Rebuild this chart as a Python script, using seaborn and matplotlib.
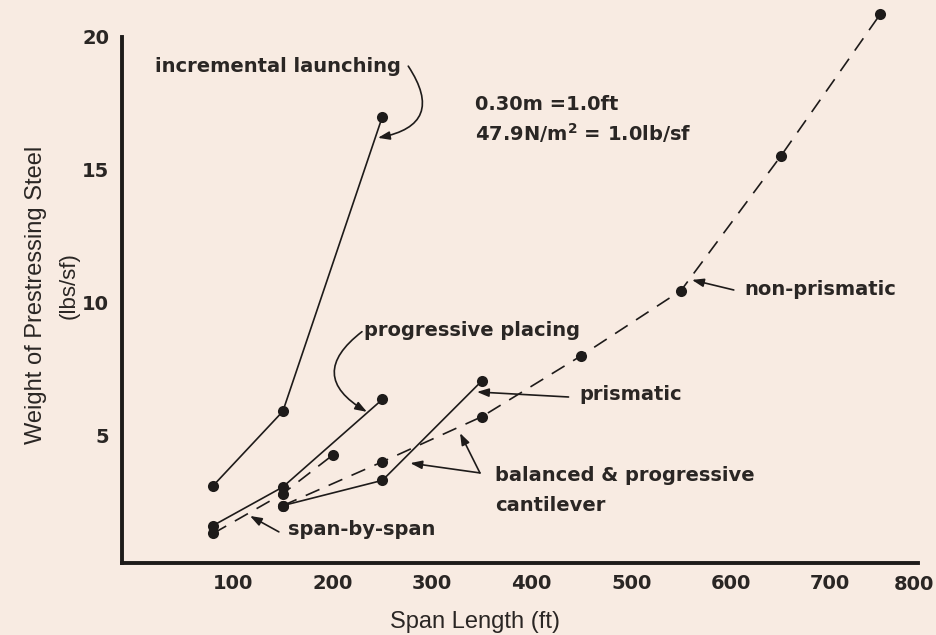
import matplotlib
matplotlib.use("Agg")
import matplotlib.pyplot as plt
import seaborn as sns
import numpy as np

# span length (ft) vs weight of prestressing steel (lbs/sf)
incremental_x = [80, 150, 250]
incremental_y = [3.1, 5.9, 17.0]

placing_x = [80, 150, 250]
placing_y = [1.6, 3.05, 6.35]

span_x = [80, 150, 200]
span_y = [1.3, 2.8, 4.25]

prismatic_x = [150, 250, 350]
prismatic_y = [2.35, 3.3, 7.05]

nonprismatic_x = [150, 250, 350, 450, 550, 650, 750]
nonprismatic_y = [2.35, 4.0, 5.7, 8.0, 10.45, 15.5, 20.85]

x_ticks = [100, 200, 300, 400, 500, 600, 700]
y_ticks = [5, 10, 15, 20]

BG = "#f8ebe2"
INK = "#1e1b1a"
TXT = "#2a2624"

sns.set_style("white")
plt.rcParams["font.family"] = ["DejaVu Sans"]

fig = plt.figure(figsize=(9.36, 6.35), dpi=100, facecolor=BG)
ax = fig.add_axes([0.1299, 0.1139, 0.8508, 0.8781])
ax.set_facecolor(BG)

solid = dict(color=INK, linewidth=1.2, marker="o", markersize=8,
             markeredgewidth=0, sort=False, estimator=None, ax=ax)
dashed = dict(solid, linestyle=(0, (9, 6)))

sns.lineplot(x=incremental_x, y=incremental_y, **solid)
sns.lineplot(x=placing_x, y=placing_y, **solid)
sns.lineplot(x=span_x, y=span_y, **dashed)
sns.lineplot(x=prismatic_x, y=prismatic_y, **solid)
sns.lineplot(x=nonprismatic_x, y=nonprismatic_y, **dashed)

ax.set_xlim(-12, 788)
ax.set_ylim(0.2, 21.2)
ax.set_xticks(x_ticks)
ax.set_xticklabels([str(v) for v in x_ticks])
ax.set_yticks(y_ticks)
ax.set_yticklabels([str(v) for v in y_ticks])
ax.set_yticks([2.5, 7.5, 12.5, 17.5], minor=True)

for s in ["top", "right"]:
    ax.spines[s].set_visible(False)
for s in ["left", "bottom"]:
    ax.spines[s].set_linewidth(2.8)
    ax.spines[s].set_color(INK)
ax.spines["left"].set_bounds(0.2, 20)

ax.tick_params(axis="both", which="both", direction="in", length=10,
               width=1.1, color=INK)
ax.tick_params(axis="x", pad=8)
ax.tick_params(axis="y", pad=9)
for lab in ax.get_xticklabels() + ax.get_yticklabels():
    lab.set_fontsize(14)
    lab.set_fontweight("bold")
    lab.set_color(TXT)
ax.set_xlabel("")
ax.set_ylabel("")

# last x label sits past the end of the axis line, as in the scan
fig.text(934 / 936, 1 - 584 / 635, "800", ha="right", va="center",
         fontsize=14, fontweight="bold", color=TXT)

lab_font = ["Liberation Sans Narrow", "Liberation Sans"]
fig.text(475 / 936, 1 - 622 / 635, "Span Length (ft)", ha="center",
         va="center", fontsize=17, family=lab_font, color=TXT)
fig.text(36 / 936, 1 - 295 / 635, "Weight of Prestressing Steel",
         rotation=90, ha="center", va="center", fontsize=17,
         family=["Liberation Sans"], color=TXT)
fig.text(69 / 936, 1 - 286 / 635, "(lbs/sf)", rotation=90, ha="center",
         va="center", fontsize=16, family=["Liberation Sans"], color=TXT)

txt = dict(fontsize=14, fontweight="bold", color=TXT, ha="left", va="center")
ax.text(21.7, 18.9, "incremental launching", **txt)
ax.text(343, 17.44, "0.30m =1.0ft", **txt)
ax.text(343, 16.38, r"47.9N/m$^\mathbf{2}$ = 1.0lb/sf", **txt)
ax.text(232, 8.96, "progressive placing", **txt)
ax.text(614, 10.47, "non-prismatic", **txt)
ax.text(448, 6.52, "prismatic", **txt)
ax.text(363, 3.47, "balanced & progressive", **txt)
ax.text(363, 2.37, "cantilever", **txt)
ax.text(155, 1.45, "span-by-span", **txt)

arrow = dict(arrowstyle="-|>,head_length=0.7,head_width=0.25",
             color=INK, lw=1.2, shrinkA=0, shrinkB=0)
ax.annotate("", xy=(245.5, 16.2), xytext=(276, 18.9),
            arrowprops=dict(arrow, connectionstyle="arc3,rad=-0.75"))
ax.annotate("", xy=(234.5, 5.88), xytext=(229.5, 8.9),
            arrowprops=dict(arrow, connectionstyle="arc3,rad=0.74"))
ax.annotate("", xy=(561, 10.85), xytext=(603, 10.47), arrowprops=arrow)
ax.annotate("", xy=(345, 6.63), xytext=(437, 6.44), arrowprops=arrow)
ax.annotate("", xy=(278, 3.95), xytext=(348, 3.58), arrowprops=arrow)
ax.annotate("", xy=(328, 5.08), xytext=(348, 3.58), arrowprops=arrow)
ax.annotate("", xy=(117, 1.96), xytext=(146, 1.36), arrowprops=arrow)

fig.savefig("out.png", dpi=100, facecolor=BG)
